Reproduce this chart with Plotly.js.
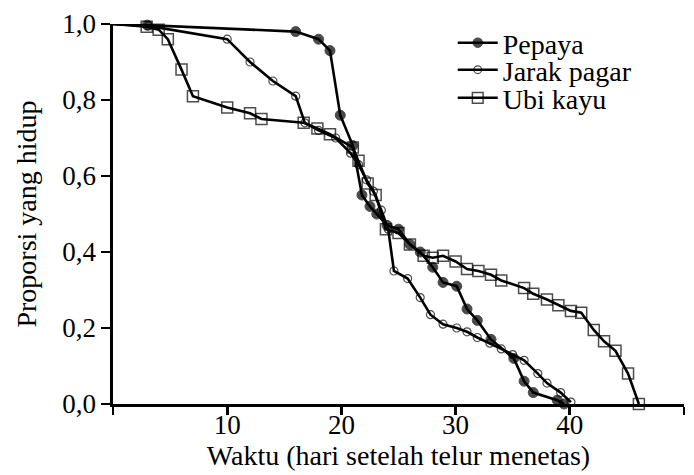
<!DOCTYPE html>
<html>
<head>
<meta charset="utf-8">
<script src="https://cdn.plot.ly/plotly-3.0.1.min.js"></script>
<style>html,body{margin:0;padding:0;background:#fff;}#chart{width:694px;height:475px;}</style>
</head>
<body>
<div id="chart"></div>
<script>
// Survival proportion data
const pepayaX = [0, 3, 16.0, 18.0, 19.0, 19.9, 21.0, 21.8, 22.5, 23.1, 24.0, 25.0, 26.0, 26.9, 28.0, 28.9, 30.1, 31.0, 31.9, 33.1, 35.1, 36.0, 36.8, 38.9, 39.5];
const pepayaY = [1.0, 0.997, 0.98, 0.96, 0.93, 0.76, 0.68, 0.55, 0.52, 0.50, 0.47, 0.46, 0.42, 0.40, 0.36, 0.32, 0.31, 0.25, 0.22, 0.17, 0.12, 0.06, 0.03, 0.01, 0.0];

const jarakX = [0, 3.1, 10.0, 12.0, 14.0, 16.0, 16.8, 18.0, 19.5, 20.8, 21.5, 22.2, 22.8, 23.5, 24.1, 24.6, 25.8, 26.9, 27.8, 28.9, 30.1, 31.0, 31.9, 33.0, 34.0, 35.0, 36.0, 37.2, 38.0, 39.2, 40.1];
const jarakY = [1.0, 0.995, 0.96, 0.90, 0.85, 0.81, 0.74, 0.72, 0.70, 0.66, 0.63, 0.59, 0.56, 0.51, 0.46, 0.35, 0.33, 0.28, 0.235, 0.21, 0.20, 0.19, 0.175, 0.16, 0.145, 0.13, 0.115, 0.08, 0.055, 0.03, 0.005];

const ubiX = [0, 2.95, 4.0, 4.8, 6.0, 7.0, 10.0, 12.0, 13.0, 16.7, 17.9, 19.0, 21.0, 21.5, 22.3, 23.0, 23.9, 25.0, 26.0, 27.2, 28.0, 28.9, 30.0, 31.0, 32.0, 33.1, 34.0, 36.0, 36.8, 38.0, 39.0, 40.1, 41.0, 42.1, 43.0, 44.0, 45.1, 46.05];
const ubiY = [1.0, 0.993, 0.985, 0.96, 0.88, 0.81, 0.78, 0.765, 0.75, 0.74, 0.725, 0.71, 0.675, 0.64, 0.58, 0.55, 0.46, 0.45, 0.42, 0.39, 0.385, 0.39, 0.375, 0.355, 0.35, 0.34, 0.325, 0.305, 0.29, 0.275, 0.26, 0.245, 0.24, 0.195, 0.165, 0.14, 0.08, 0.0];

const seriesNames = ['Pepaya', 'Jarak pagar', 'Ubi kayu'];
const xTickVals = [0, 10, 20, 30, 40, 50];
const xTickText = ['', '10', '20', '30', '40', '50'];
const yTickVals = [0, 0.2, 0.4, 0.6, 0.8, 1.0];
const yTickText = ['0,0', '0,2', '0,4', '0,6', '0,8', '1,0'];

function sizes(arr, s) { return arr.map((v, i) => i === 0 ? 0 : s); }

const font = '"Liberation Serif", "DejaVu Serif", serif';
const lineStyle = {color: '#000', width: 2.6};

const traces = [
  {
    x: pepayaX, y: pepayaY, name: seriesNames[0], mode: 'lines+markers', legend: 'legend',
    line: lineStyle,
    marker: {symbol: 'circle', size: sizes(pepayaX, 10), color: '#000', line: {color: '#000', width: 1}},
    cliponaxis: false
  },
  {
    x: jarakX, y: jarakY, name: seriesNames[1], mode: 'lines+markers', legend: 'legend2',
    line: lineStyle,
    marker: {symbol: 'circle-open', size: sizes(jarakX, 8), color: '#000', line: {color: '#000', width: 1.2}},
    cliponaxis: false
  },
  {
    x: ubiX, y: ubiY, name: seriesNames[2], mode: 'lines+markers', legend: 'legend3',
    line: lineStyle,
    marker: {symbol: 'square-open', size: sizes(ubiX, 11), color: '#000', line: {color: '#000', width: 1.5}},
    cliponaxis: false
  }
];

function legendAt(y) {
  return {x: 0.595, y: y, xanchor: 'left', yanchor: 'middle', bgcolor: 'rgba(0,0,0,0)',
          font: {family: font, size: 28, color: '#000'}, itemwidth: 40, tracegroupgap: 0};
}

const layout = {
  width: 694, height: 475,
  margin: {l: 113, r: 10, t: 24, b: 71},
  paper_bgcolor: '#fff', plot_bgcolor: '#fff',
  font: {family: font, size: 27, color: '#000'},
  showlegend: true,
  legend: legendAt(0.950),
  legend2: legendAt(0.879),
  legend3: legendAt(0.805),
  xaxis: {
    range: [0, 50], tickvals: xTickVals, ticktext: xTickText,
    showgrid: false, zeroline: false, showline: true, linecolor: '#000', linewidth: 2.6,
    ticks: 'outside', ticklen: 8, tickwidth: 2.6, tickcolor: '#000',
    ticklabelstandoff: -13,
    tickfont: {family: font, size: 27, color: '#000'},
    title: {text: 'Waktu (hari setelah telur menetas)', font: {family: font, size: 28, color: '#000'}, standoff: 6}
  },
  yaxis: {
    range: [0, 1], tickvals: yTickVals, ticktext: yTickText,
    showgrid: false, zeroline: false, showline: true, linecolor: '#000', linewidth: 2.6,
    ticks: 'outside', ticklen: 9, tickwidth: 2.6, tickcolor: '#000',
    tickfont: {family: font, size: 27, color: '#000'},
    title: {text: 'Proporsi yang hidup', font: {family: font, size: 28, color: '#000'}, standoff: 18}
  }
};

Plotly.newPlot('chart', traces, layout, {displayModeBar: false, staticPlot: true});
</script>
</body>
</html>
